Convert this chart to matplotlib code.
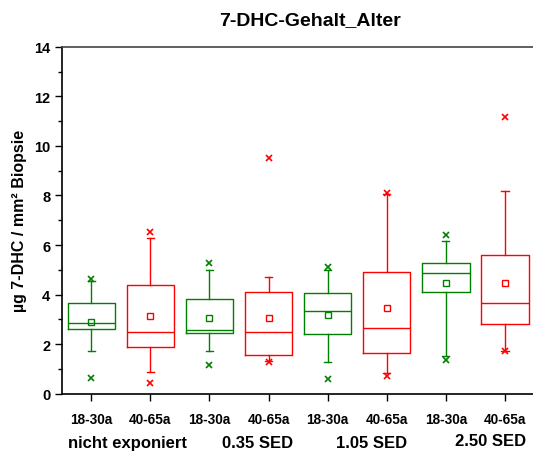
import matplotlib
matplotlib.use("Agg")
import matplotlib.pyplot as plt
from matplotlib.ticker import MultipleLocator

plt.rcParams['font.family'] = ['Liberation Sans', 'DejaVu Sans']
plt.rcParams['font.weight'] = 'bold'

age_labels = ["18-30a", "40-65a", "18-30a", "40-65a", "18-30a", "40-65a", "18-30a", "40-65a"]
groups = ["nicht exponiert", "0.35 SED", "1.05 SED", "2.50 SED"]
colors = ["#008000", "#ff0000"] * 4

# box statistics
whislo = [1.73, 0.87, 1.74, 1.30, 1.26, 0.83, 1.50, 1.72]
q1 = [2.60, 1.89, 2.43, 1.57, 2.41, 1.65, 4.09, 2.80]
med = [2.84, 2.48, 2.55, 2.47, 3.34, 2.63, 4.89, 3.65]
q3 = [3.65, 4.40, 3.81, 4.09, 4.07, 4.93, 5.28, 5.60]
whishi = [4.55, 6.30, 5.01, 4.71, 5.00, 8.06, 6.18, 8.17]
means = [2.88, 3.14, 3.04, 3.07, 3.17, 3.46, 4.45, 4.45]
mins = [0.63, 0.41, 1.14, 1.27, 0.59, 0.70, 1.35, 1.72]
maxs = [4.63, 6.52, 5.28, 9.51, 5.11, 8.09, 6.41, 11.18]

fig = plt.figure(figsize=(5.33, 4.52), dpi=100)
ax = fig.add_axes([0.1163, 0.127, 0.8837, 0.767])

pos = list(range(1, 9))
for i in range(8):
    st = [dict(whislo=whislo[i], q1=q1[i], med=med[i], q3=q3[i], whishi=whishi[i],
               mean=means[i], fliers=[mins[i], maxs[i]])]
    c = colors[i]
    ax.bxp(st, positions=[pos[i]], widths=0.8, showmeans=True,
           boxprops=dict(color=c, lw=1),
           medianprops=dict(color=c, lw=1),
           whiskerprops=dict(color=c, lw=1),
           capprops=dict(color=c, lw=1),
           capwidths=0.12,
           meanprops=dict(marker='s', markerfacecolor='none', markeredgecolor=c,
                          markersize=4, markeredgewidth=1),
           flierprops=dict(marker='x', markeredgecolor=c, markersize=4, markeredgewidth=1.2))

ax.set_xlim(0.504, 8.474)
ax.set_ylim(0, 14)
ax.yaxis.set_major_locator(MultipleLocator(2))
ax.yaxis.set_minor_locator(MultipleLocator(1))
ax.set_xticks(pos)
ax.set_xticklabels(age_labels, fontsize=9.8, fontweight='bold')
ax.tick_params(axis='y', labelsize=10.5, direction='out', length=5, width=1)
ax.tick_params(axis='y', which='minor', direction='out', length=3, width=1)
ax.tick_params(axis='x', direction='out', length=5, width=1, pad=8)
for lab in ax.get_yticklabels():
    lab.set_fontweight('bold')
ax.spines['right'].set_visible(False)
for s in ['left', 'bottom', 'top']:
    ax.spines[s].set_linewidth(1.2)
ax.spines['top'].set_color('#444444')

group_x = [1.62, 3.82, 5.75, 7.76]
group_y = [-0.14, -0.14, -0.14, -0.135]
for gx, gy, g in zip(group_x, group_y, groups):
    ax.text(gx, gy, g, transform=ax.get_xaxis_transform(), ha='center', va='center',
            fontsize=12, fontweight='bold')

ax.set_ylabel("µg 7-DHC / mm² Biopsie", fontsize=11.5, fontweight='bold', labelpad=5)
fig.text(0.582, 0.955, "7-DHC-Gehalt_Alter", ha='center', va='center', fontsize=14, fontweight='bold')

fig.savefig("out.png", dpi=100)
